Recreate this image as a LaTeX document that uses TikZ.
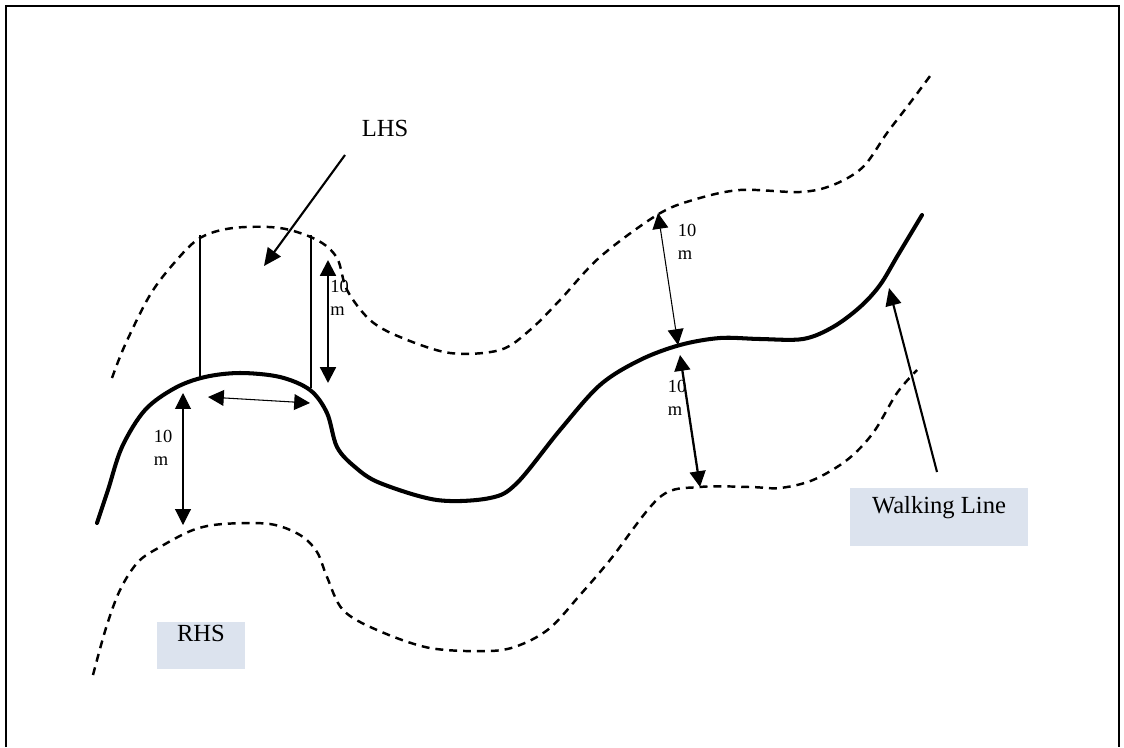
\documentclass[tikz,border=0pt]{standalone}
\usepackage{fontspec}
\setmainfont{Liberation Serif}
\usetikzlibrary{arrows.meta, positioning}

\definecolor{tagfill}{RGB}{220,227,238}

\begin{document}
\begin{tikzpicture}[
      x=0.02cm, y=-0.02cm,
      % Line styles
      walk/.style={line width=2.3pt, line join=round, line cap=round},
      offset/.style={line width=1.4pt, dash pattern=on 4.5pt off 3.4pt},
      % Measure arrows
      measure/.style={line width=0.6pt, {Triangle[length=9pt,width=9pt]}-{Triangle[length=9pt,width=9pt]}},
      measure thick/.style={measure, line width=1.3pt},
      pointer/.style={line width=1.2pt, -{Triangle[length=10pt,width=9pt]}},
      % Text styles
      dist/.style={font=\fontsize{10.5}{13}\selectfont, align=left, inner sep=0pt},
      tag/.style={fill=tagfill, inner sep=0pt, font=\fontsize{14}{16}\selectfont},
    ]
    \useasboundingbox (0,0) rectangle (1124,747);

    % frame
    \draw[line width=1.2pt] (6,747) -- (6,6) -- (1119,6) -- (1119,747);

    % walking line and the two 10 m offsets
    \draw[walk] plot[smooth, tension=0.55] coordinates {
      (97,523) (108,490) (122,447) (145,410) (175,388) (205,377) (240,373)
      (280,377) (310,390) (327,413) (337,447) (355,467) (380,483) (437,500)
      (490,498) (517,483) (560,430) (600,385) (640,360) (680,345) (720,338)
      (760,339) (803,339) (833,327) (860,307) (880,285) (898,255) (922,215)};
    \draw[offset] plot[smooth, tension=0.55] coordinates {
      (112,378) (125,345) (150,295) (175,262) (200,238) (233,228) (280,228)
      (317,240) (337,258) (347,290) (370,320) (400,337) (450,353) (500,350)
      (530,330) (560,300) (600,257) (657,215) (693,200) (740,190) (800,192)
      (833,185) (863,167) (887,133) (910,103) (933,72)};
    \draw[offset] plot[smooth, tension=0.55] coordinates {
      (93,675) (106,628) (120,590) (138,562) (160,547) (193,530) (223,524)
      (270,524) (300,535) (317,552) (327,577) (343,610) (377,630) (430,648)
      (490,651) (520,645) (550,628) (580,595) (610,560) (660,497) (700,487)
      (750,487) (780,488) (813,480) (847,460) (873,433) (897,393) (917,370)};

    % LHS strip
    \draw[line width=1.1pt] (200,235) -- (200,378);
    \draw[line width=1.1pt] (311,235) -- (311,388);

    % measure points
    \coordinate (stripTop) at (328,260);
    \coordinate (stripBot) at (328,383);
    \coordinate (spanL) at (208,397);
    \coordinate (spanR) at (310,403);
    \coordinate (leftTop) at (183,393);
    \coordinate (leftBot) at (183,525);
    \coordinate (upTop) at (658,213);
    \coordinate (upBot) at (678,345);
    \coordinate (lowTop) at (680,355);
    \coordinate (lowBot) at (700,487);

    \draw[measure thick] (stripTop) -- (stripBot);
    \draw[measure] (spanL) -- (spanR);
    \draw[measure] (leftTop) -- (leftBot);
    \draw[measure] (upTop) -- (upBot);
    \draw[measure thick] (lowTop) -- (lowBot);

    \node[dist, anchor=west] (stripLbl) at (330,298) {10\\m};
    \node[dist] (leftLbl) at (163,448) {10\\m};
    \node[dist] (upLbl) at (687,242) {10\\m};
    \node[dist] (lowLbl) at (677,398) {10\\m};

    % side labels
    \node[font=\fontsize{14}{16}\selectfont] (lhs) at (385,128) {LHS};
    \coordinate (lhsFrom) at (345,155);
    \coordinate (lhsTo) at (264,266);
    \draw[pointer] (lhsFrom) -- (lhsTo);

    \node[tag, minimum width=1.78cm, text height=0.4cm, text depth=0.54cm] (rhs) at (201,645) {RHS};

    \node[tag, minimum width=3.56cm, text height=0.5cm, text depth=0.66cm] (walkTag) at (939,517) {Walking Line};
    \coordinate (walkFrom) at (937,472);
    \coordinate (walkTo) at (889,288);
    \draw[pointer] (walkFrom) -- (walkTo);
\end{tikzpicture}
\end{document}
